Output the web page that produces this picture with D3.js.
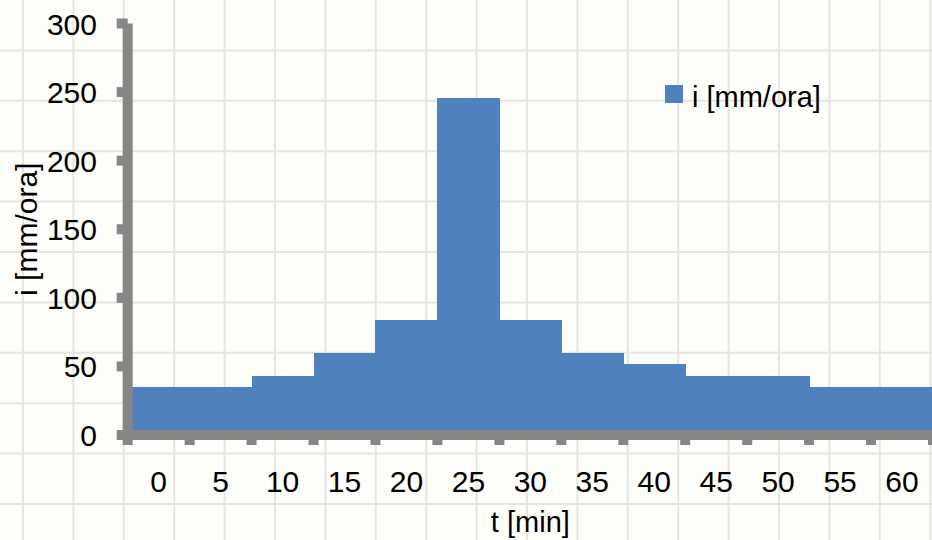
<!DOCTYPE html>
<html lang="en">
<head>
    <meta charset="UTF-8">
    <title>i [mm/ora]</title>
    <script src="https://d3js.org/d3.v7.min.js"></script>
    <style>
        body {
            margin: 0;
            background: #fdfdf9;
            overflow: hidden;
            font-family: 'Liberation Sans Narrow', 'Liberation Sans', 'Noto Sans', sans-serif;
        }
        svg text { fill: #000; }
    </style>
</head>
<body>
    <script>
        // t [min] categories and intensity values i [mm/ora]
        const categories = ["0", "5", "10", "15", "20", "25", "30", "35", "40", "45", "50", "55", "60"];
        const values = [35, 35, 43, 59.5, 84, 246, 84, 59.5, 51.5, 43, 43, 35, 35];
        const yTicks = [0, 50, 100, 150, 200, 250, 300];
        const seriesName = "i [mm/ora]";

        const width = 932;
        const height = 540;

        const svg = d3.select("body")
            .append("svg")
            .attr("width", width)
            .attr("height", height);

        // spreadsheet cell grid behind the chart
        const cell = 50.4;
        const bg = svg.append("g").attr("stroke", "#e6e6e1").attr("stroke-width", 2);
        bg.selectAll("line.v")
            .data(d3.range(23, width, cell))
            .enter().append("line")
            .attr("x1", d => d).attr("x2", d => d)
            .attr("y1", 0).attr("y2", height);
        bg.selectAll("line.h")
            .data(d3.range(cell, height, cell))
            .enter().append("line")
            .attr("x1", 0).attr("x2", width)
            .attr("y1", d => d).attr("y2", d => d);

        const x = d3.scaleBand()
            .domain(categories)
            .range([127.7, 933])
            .padding(0);

        const y = d3.scaleLinear()
            .domain([0, 300])
            .range([435, 23.5]);

        const color = "#4f81bd";
        const axisColor = "#868686";

        // bars (gap width 0)
        svg.append("g")
            .selectAll("rect")
            .data(values)
            .enter()
            .append("rect")
            .attr("x", (d, i) => x(categories[i]))
            .attr("width", x.bandwidth() + 0.5)
            .attr("y", d => y(d))
            .attr("height", d => y(0) - y(d))
            .attr("fill", color)
            .attr("shape-rendering", "crispEdges");

        // y axis
        const yAxis = svg.append("g");
        yAxis.append("line")
            .attr("x1", x.range()[0]).attr("x2", x.range()[0])
            .attr("y1", y(300)).attr("y2", y(0))
            .attr("stroke", axisColor).attr("stroke-width", 10);
        yAxis.selectAll("line.tick")
            .data(yTicks)
            .enter().append("line")
            .attr("x1", x.range()[0] - 11).attr("x2", x.range()[0])
            .attr("y1", d => y(d)).attr("y2", d => y(d))
            .attr("stroke", axisColor).attr("stroke-width", 10);
        yAxis.selectAll("text")
            .data(yTicks)
            .enter().append("text")
            .attr("x", 97)
            .attr("y", d => y(d) + 11)
            .attr("text-anchor", "end")
            .style("font-size", "30px")
            .text(d => d);

        // x axis
        const xAxis = svg.append("g");
        const boundaries = categories.map(c => x(c)).concat([x.range()[1]]);
        xAxis.append("line")
            .attr("x1", x.range()[0] - 5).attr("x2", x.range()[1])
            .attr("y1", y(0)).attr("y2", y(0))
            .attr("stroke", axisColor).attr("stroke-width", 10);
        xAxis.selectAll("line.tick")
            .data(boundaries)
            .enter().append("line")
            .attr("x1", d => d).attr("x2", d => d)
            .attr("y1", y(0)).attr("y2", y(0) + 10)
            .attr("stroke", axisColor).attr("stroke-width", 10);
        xAxis.selectAll("text")
            .data(categories)
            .enter().append("text")
            .attr("x", d => x(d) + x.bandwidth() / 2)
            .attr("y", 492)
            .attr("text-anchor", "middle")
            .style("font-size", "30px")
            .text(d => d);

        // axis titles
        svg.append("text")
            .attr("x", (x.range()[0] + x.range()[1]) / 2)
            .attr("y", 532)
            .attr("text-anchor", "middle")
            .style("font-size", "29px")
            .text("t [min]");

        svg.append("text")
            .attr("transform", `translate(37,${(y(0) + y(300)) / 2}) rotate(-90)`)
            .attr("text-anchor", "middle")
            .style("font-size", "30px")
            .text("i [mm/ora]");

        // legend
        const legend = svg.append("g").attr("transform", "translate(665,85)");
        legend.append("rect")
            .attr("width", 18).attr("height", 18)
            .attr("fill", color);
        legend.append("text")
            .attr("x", 27).attr("y", 22)
            .style("font-size", "29px")
            .text(seriesName);
    </script>
</body>
</html>
